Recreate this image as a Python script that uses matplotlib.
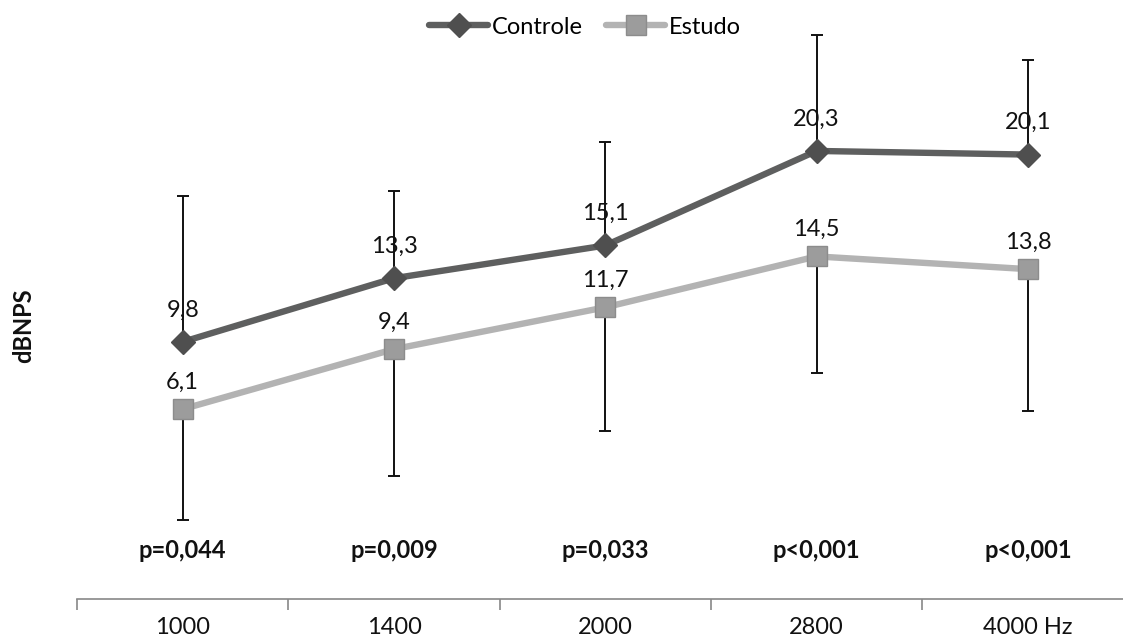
import matplotlib
matplotlib.use("Agg")
import matplotlib.pyplot as plt
import numpy as np

categories = ["1000", "1400", "2000", "2800", "4000 Hz"]
controle = [9.8, 13.3, 15.1, 20.3, 20.1]
controle_err = [8.0, 4.8, 5.7, 6.4, 5.2]
estudo = [6.1, 9.4, 11.7, 14.5, 13.8]
estudo_err = [6.1, 7.0, 6.8, 6.4, 7.8]
pvalues = ["p=0,044", "p=0,009", "p=0,033", "p<0,001", "p<0,001"]

plt.rcParams['font.family'] = ['Lato', 'DejaVu Sans']

fig = plt.figure(figsize=(11.23, 6.36), dpi=100)
ax = fig.add_axes([77/1123, 37/636, 1 - 77/1123, 599/636])

x = np.arange(len(categories))
c_dark = "#5e5f5f"
c_light = "#b3b3b3"

# error bars
ax.errorbar(x, controle, yerr=[np.zeros(5), controle_err], fmt='none',
            ecolor='#111111', elinewidth=1.4, capsize=4.5, capthick=1.4, zorder=2)
ax.errorbar(x, estudo, yerr=[estudo_err, np.zeros(5)], fmt='none',
            ecolor='#111111', elinewidth=1.4, capsize=4.5, capthick=1.4, zorder=2)

ax.plot(x, controle, color=c_dark, lw=4.6, marker='D', markersize=12,
        markerfacecolor='#4f4f4f', markeredgecolor='#4f4f4f', label='Controle', zorder=3,
        solid_capstyle='round')
ax.plot(x, estudo, color=c_light, lw=4.6, marker='s', markersize=15,
        markerfacecolor='#9c9c9c', markeredgecolor='#8c8c8c', label='Estudo', zorder=3,
        solid_capstyle='round')

for xi, v in zip(x, controle):
    ax.annotate(f"{v:.1f}".replace('.', ','), (xi, v), xytext=(0, 23),
                textcoords='offset points', ha='center', va='center', fontsize=17, color='#111111', zorder=4)
for xi, v in zip(x, estudo):
    ax.annotate(f"{v:.1f}".replace('.', ','), (xi, v), xytext=(0, 19.5),
                textcoords='offset points', ha='center', va='center', fontsize=17, color='#111111', zorder=4)

for xi, p in zip(x, pvalues):
    ax.text(xi, -1.65, p, ha='center', va='center', fontsize=17, fontweight='bold', color='#111111')

ax.set_xlim(-0.5, 4.45)
ax.set_ylim(-4.34, 28.6)

for s in ['top', 'right', 'left']:
    ax.spines[s].set_visible(False)
ax.spines['bottom'].set_color('#888888')
ax.spines['bottom'].set_linewidth(1.2)

ax.set_yticks([])
ax.set_xticks(np.arange(-0.5, 4.5, 1.0))
ax.set_xticklabels([])
ax.tick_params(axis='x', which='major', length=8, color='#888888', width=1.2)
ax.set_xticks(x, minor=True)
ax.set_xticklabels(categories, minor=True, fontsize=17, color='#111111')
ax.tick_params(axis='x', which='minor', length=0, pad=13)

fig.text(24/1123, 1 - 326/636, "dBNPS", rotation=90, ha='center', va='center',
         fontsize=17, fontweight='bold', color='#111111')

leg = ax.legend(loc='center', ncol=2, frameon=False, fontsize=17, handlelength=2.5,
                columnspacing=1.0, handletextpad=0.15, borderaxespad=0.0, borderpad=0.1)
leg.set_bbox_to_anchor((585/1123, 1 - 27/636), transform=fig.transFigure)

fig.savefig("out.png", dpi=100, facecolor='white')
